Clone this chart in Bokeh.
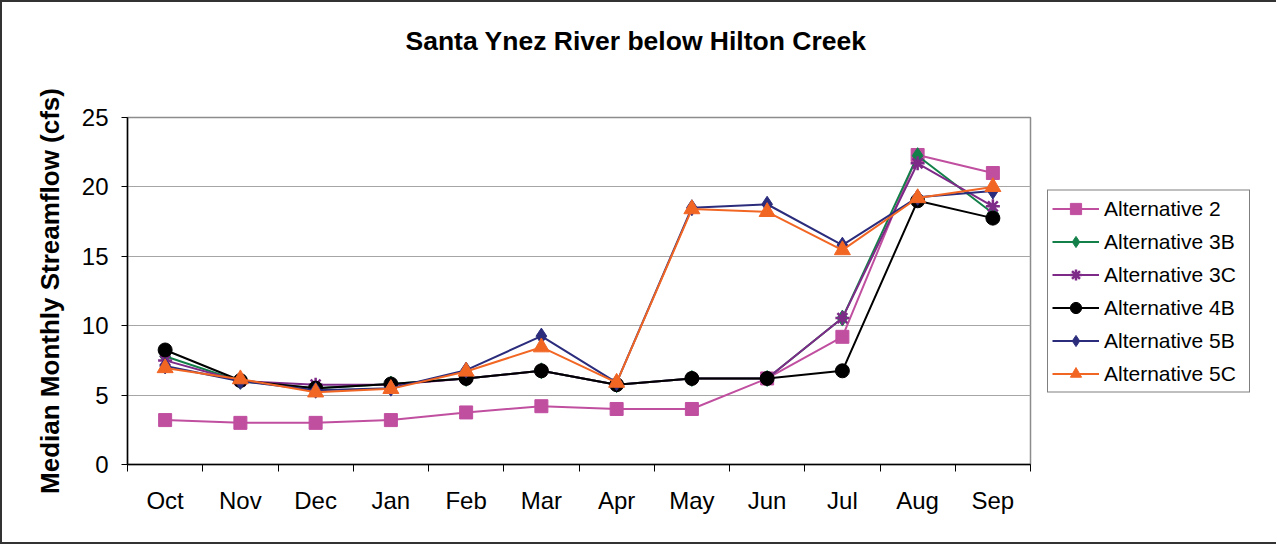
import numpy as np
from bokeh.plotting import figure
from bokeh.models import Range1d, FixedTicker, Legend, LegendItem, Title
from bokeh.embed import file_html
from bokeh.resources import INLINE

months = ["Oct", "Nov", "Dec", "Jan", "Feb", "Mar", "Apr", "May", "Jun", "Jul", "Aug", "Sep"]
alt2 = [3.2, 3.0, 3.0, 3.2, 3.75, 4.2, 4.0, 4.0, 6.2, 9.2, 22.3, 21.0]
alt3b = [7.8, 6.0, 5.5, 5.8, 6.2, 6.75, 5.75, 6.2, 6.2, 10.55, 22.25, 18.1]
alt3c = [7.5, 6.0, 5.75, 5.75, 6.2, 6.75, 5.75, 6.2, 6.2, 10.55, 21.7, 18.6]
alt4b = [8.25, 6.05, 5.5, 5.8, 6.2, 6.75, 5.75, 6.2, 6.2, 6.75, 19.0, 17.75]
alt5b = [7.1, 6.0, 5.35, 5.5, 6.8, 9.25, 5.9, 18.5, 18.75, 15.8, 19.25, 19.7]
alt5c = [6.95, 6.15, 5.2, 5.45, 6.7, 8.45, 5.9, 18.4, 18.2, 15.45, 19.2, 20.0]
y_ticks = [0, 5, 10, 15, 20, 25]

series = [
    ("Alternative 2", alt2, "#C04FA0", "square", 13),
    ("Alternative 3B", alt3b, "#13804A", "diamond", 16),
    ("Alternative 3C", alt3c, "#7E2A88", "asterisk", 14),
    ("Alternative 4B", alt4b, "#000000", "circle", 14),
    ("Alternative 5B", alt5b, "#2B2C7C", "diamond", 16),
    ("Alternative 5C", alt5c, "#F26624", "triangle", 16),
]

FONT = "Liberation Sans"

p = figure(frame_width=903, frame_height=347, output_backend="svg", toolbar_location=None,
           x_range=Range1d(0, len(months)), y_range=Range1d(0, 25),
           min_border_left=125, min_border_right=236, min_border_top=115,
           min_border_bottom=78)
p.styles = {"border": "2px solid #333333"}
p.background_fill_color = "white"
p.border_fill_color = "white"
p.outline_line_color = "#8c8c8c"
p.outline_line_width = 1.5

spacer = Title(text=" ", standoff=44, text_font=FONT, text_font_size="10px")
p.add_layout(spacer, "above")
title = Title(text="Santa Ynez River below Hilton Creek", align="left", offset=278,
              standoff=10, text_font=FONT, text_font_size="26.5px",
              text_font_style="bold", text_color="black")
p.add_layout(title, "above")

xc = np.arange(len(months)) + 0.5
items = []
for name, vals, color, marker, size in series:
    r1 = p.line(xc, vals, line_color=color, line_width=2)
    r2 = p.scatter(xc, vals, marker=marker, size=size, fill_color=color,
                   line_color=color, line_width=2.5 if marker == "asterisk" else 1)
    items.append(LegendItem(label=name, renderers=[r1, r2]))

# axes
xa = p.xaxis[0]
xa.ticker = FixedTicker(ticks=list(xc), minor_ticks=list(range(len(months) + 1)))
xa.major_label_overrides = {float(x): m for x, m in zip(xc, months)}
xa.major_tick_out = 0
xa.major_tick_in = 0
xa.minor_tick_out = 7
xa.minor_tick_in = 0
xa.minor_tick_line_color = "black"
xa.axis_line_color = "black"
xa.axis_line_width = 1.5
xa.major_label_text_font = FONT
xa.major_label_text_font_size = "24px"
xa.major_label_text_color = "black"
xa.major_label_standoff = 15

ya = p.yaxis[0]
ya.ticker = FixedTicker(ticks=y_ticks)
ya.minor_tick_line_color = None
ya.major_tick_out = 6
ya.major_tick_in = 0
ya.major_tick_line_color = "black"
ya.axis_line_color = "black"
ya.axis_line_width = 1.5
ya.major_label_text_font = FONT
ya.major_label_text_font_size = "24px"
ya.major_label_text_color = "black"
ya.major_label_standoff = 13
ya.axis_label = "Median Monthly Streamflow (cfs)"
ya.axis_label_text_font = FONT
ya.axis_label_text_font_size = "26px"
ya.axis_label_text_font_style = "bold"
ya.axis_label_text_color = "black"
ya.axis_label_standoff = 14

p.xgrid.grid_line_color = None
p.ygrid.ticker = FixedTicker(ticks=y_ticks)
p.ygrid.grid_line_color = "#a6a6a6"
p.ygrid.grid_line_width = 1

legend = Legend(items=items, location="center_left")
legend.margin = 17
legend.label_text_font = FONT
legend.label_text_font_size = "21px"
legend.label_text_color = "black"
legend.glyph_width = 47
legend.glyph_height = 28
legend.label_height = 28
legend.label_width = 141
legend.spacing = 5
legend.padding = 4
legend.label_standoff = 5
legend.border_line_color = "black"
legend.border_line_width = 1
legend.background_fill_color = "white"
legend.background_fill_alpha = 1
p.add_layout(legend, "right")

open("out.html", "w").write(file_html(p, INLINE))
